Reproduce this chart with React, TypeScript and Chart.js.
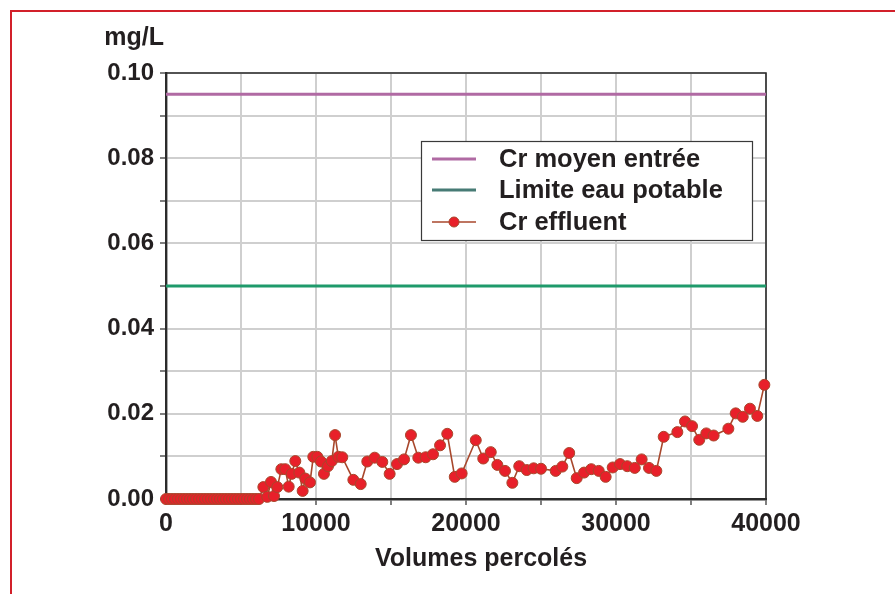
import React, { useEffect, useRef } from "react";
import { Chart, registerables } from "chart.js";

Chart.register(...registerables);

// ---- data ----
const effluentVolumes = [
  0, 200, 400, 600, 800, 1000, 1200, 1400, 1600, 1800, 2000, 2200, 2400, 2600, 2800, 3000,
  3200, 3400, 3600, 3800, 4000, 4200, 4400, 4600, 4800, 5000, 5200, 5400, 5600, 5800, 6000, 6200,
  6490, 6750, 7000, 7200, 7420, 7690, 7950, 8180, 8380, 8620,
  8890, 9110, 9290, 9600, 9820, 10090, 10330, 10530, 10800, 11050,
  11270, 11490, 11750, 12490, 12980, 13420, 13910, 14420, 14910, 15400,
  15870, 16330, 16820, 17310, 17800, 18270, 18750, 19250, 19710, 20650,
  21150, 21650, 22090, 22600, 23090, 23550, 24050, 24510, 25000, 25980,
  26420, 26880, 27380, 27870, 28350, 28850, 29310, 29780, 30270, 30750,
  31250, 31710, 32200, 32690, 33180, 34090, 34600, 35070, 35550, 36020,
  36510, 37490, 37980, 38450, 38930, 39420, 39890,
];
const effluentCr = [
  0, 0, 0, 0, 0, 0, 0, 0, 0, 0, 0, 0, 0, 0, 0, 0,
  0, 0, 0, 0, 0, 0, 0, 0, 0, 0, 0, 0, 0, 0, 0, 0,
  0.0028, 0.0005, 0.004, 0.0007, 0.0028, 0.007, 0.007, 0.0029, 0.0059, 0.0089,
  0.0062, 0.0019, 0.0048, 0.0039, 0.0099, 0.0099, 0.0088, 0.0059, 0.0077, 0.0089,
  0.015, 0.0099, 0.0098, 0.0045, 0.0035, 0.0088, 0.0097, 0.0087, 0.0059, 0.0082,
  0.0093, 0.015, 0.0097, 0.0098, 0.0105, 0.0126, 0.0153, 0.0052, 0.006, 0.0138,
  0.0095, 0.011, 0.008, 0.0066, 0.0038, 0.0077, 0.0068, 0.0072, 0.0071, 0.0066,
  0.0076, 0.0108, 0.0049, 0.0062, 0.007, 0.0066, 0.0052, 0.0074, 0.0082, 0.0077,
  0.0073, 0.0093, 0.0073, 0.0066, 0.0146, 0.0157, 0.0182, 0.0171, 0.0139, 0.0154,
  0.0149, 0.0165, 0.0201, 0.0193, 0.0212, 0.0195, 0.0268,
];
const lineVolumes = [0, 40000];
const crMoyenEntree = [0.095, 0.095];
const limiteEauPotable = [0.05, 0.05];
const seriesLabels = ["Cr moyen entrée", "Limite eau potable", "Cr effluent"];
const xTitle = "Volumes percolés";
const yUnit = "mg/L";

const FONT = "'Liberation Sans', Arial, Helvetica, sans-serif";
const TEXT = "#231f20";

const pts = (xs: number[], ys: number[]) => xs.map((x, i) => ({ x, y: ys[i] }));

const framePlugin = {
  id: "frameAndUnit",
  beforeDatasetsDraw(chart: any) {
    const { ctx, chartArea: a } = chart;
    ctx.save();
    ctx.strokeStyle = "#2b2b2b";
    ctx.lineWidth = 1.6;
    ctx.beginPath();
    ctx.moveTo(a.left, a.top);
    ctx.lineTo(a.right, a.top);
    ctx.lineTo(a.right, a.bottom);
    ctx.stroke();
    ctx.restore();
  },
  afterDraw(chart: any) {
    const { ctx, chartArea: a } = chart;
    ctx.save();
    // unit label
    ctx.fillStyle = TEXT;
    ctx.font = `bold 25px ${FONT}`;
    ctx.textAlign = "right";
    ctx.textBaseline = "alphabetic";
    ctx.fillText(yUnit, a.left - 2, 45);

    // x axis title
    ctx.textAlign = "center";
    ctx.font = `bold 25px ${FONT}`;
    ctx.fillText(xTitle, 481, 566);

    // legend box
    const bx = 421, by = 141, bw = 331, bh = 99;
    ctx.fillStyle = "#ffffff";
    ctx.fillRect(bx, by, bw, bh);
    ctx.strokeStyle = "#3a3a3a";
    ctx.lineWidth = 1.2;
    ctx.strokeRect(bx + 0.5, by + 0.5, bw, bh);
    const rows = [159, 190, 222];
    const legendColors = ["#b06aa3", "#477b75", "#a8472c"];
    chart.data.datasets.forEach((ds: any, i: number) => {
      const y = rows[i];
      ctx.strokeStyle = legendColors[i];
      ctx.lineWidth = i === 2 ? 1.6 : 3;
      ctx.beginPath();
      ctx.moveTo(432, y);
      ctx.lineTo(476, y);
      ctx.stroke();
      if (i === 2) {
        ctx.beginPath();
        ctx.arc(454, y, 5, 0, Math.PI * 2);
        ctx.fillStyle = ds.pointBackgroundColor;
        ctx.fill();
        ctx.strokeStyle = ds.pointBorderColor;
        ctx.lineWidth = 1;
        ctx.stroke();
      }
      ctx.fillStyle = TEXT;
      ctx.font = `bold 25.5px ${FONT}`;
      ctx.textAlign = "left";
      ctx.textBaseline = "middle";
      ctx.fillText(ds.label, 499, y + 1);
    });
    ctx.restore();
  },
};

export default function App() {
  const ref = useRef<HTMLCanvasElement | null>(null);

  useEffect(() => {
    if (!ref.current) return;
    const chart = new Chart(ref.current, {
      type: "scatter",
      data: {
        datasets: [
          {
            label: seriesLabels[0],
            data: pts(lineVolumes, crMoyenEntree),
            showLine: true,
            borderColor: "#b06aa3",
            borderWidth: 3,
            pointRadius: 0,
            clip: false,
          } as any,
          {
            label: seriesLabels[1],
            data: pts(lineVolumes, limiteEauPotable),
            showLine: true,
            borderColor: "#1e9a6b",
            borderWidth: 3,
            pointRadius: 0,
            clip: false,
          } as any,
          {
            label: seriesLabels[2],
            data: pts(effluentVolumes, effluentCr),
            showLine: true,
            borderColor: "#a8472c",
            borderWidth: 1.6,
            pointRadius: 5.5,
            pointBackgroundColor: "#e8202a",
            pointBorderColor: "#a8472c",
            pointBorderWidth: 1,
            clip: false,
          } as any,
        ],
      },
      options: {
        animation: false,
        responsive: false,
        devicePixelRatio: 1,
        layout: { padding: { top: 73, right: 129, left: 0, bottom: 0 } },
        plugins: {
          legend: { display: false },
          tooltip: { enabled: false },
        },
        scales: {
          x: {
            type: "linear",
            min: 0,
            max: 40000,
            afterFit: (s: any) => {
              s.height = 95;
            },
            ticks: {
              stepSize: 5000,
              autoSkip: false,
              maxRotation: 0,
              padding: 4,
              color: TEXT,
              font: { family: FONT, size: 25, weight: "bold" },
              callback: (v: any) => (Number(v) % 10000 === 0 ? String(v) : ""),
            },
            grid: {
              color: "#cfcfcf",
              lineWidth: 2,
              tickColor: "#2b2b2b",
              tickLength: 6,
              tickWidth: 1.2,
            },
            border: { color: "#2b2b2b", width: 2.4 },
          },
          y: {
            min: 0,
            max: 0.1,
            afterFit: (s: any) => {
              s.width = 166;
            },
            ticks: {
              stepSize: 0.01,
              autoSkip: false,
              padding: 6,
              color: TEXT,
              font: { family: FONT, size: 24, weight: "bold" },
              callback: (v: any) => {
                const n = Math.round(Number(v) * 100);
                return n % 2 === 0 ? (n / 100).toFixed(2) : "";
              },
            },
            grid: {
              color: "#cfcfcf",
              lineWidth: 2,
              tickColor: "#2b2b2b",
              tickLength: 6,
              tickWidth: 1.2,
            },
            border: { color: "#2b2b2b", width: 2.4 },
          },
        },
      },
      plugins: [framePlugin],
    });
    return () => chart.destroy();
  }, []);

  return (
    <div
      style={{
        position: "fixed",
        left: 0,
        top: 0,
        width: 895,
        height: 594,
        background: "#ffffff",
        overflow: "hidden",
      }}
    >
      <div
        style={{
          position: "absolute",
          left: 10,
          top: 10,
          width: 920,
          height: 620,
          borderLeft: "2px solid #d2202a",
          borderTop: "2px solid #d2202a",
        }}
      />
      <canvas
        ref={ref}
        width={895}
        height={594}
        style={{ position: "absolute", left: 0, top: 0, width: 895, height: 594 }}
      />
    </div>
  );
}
